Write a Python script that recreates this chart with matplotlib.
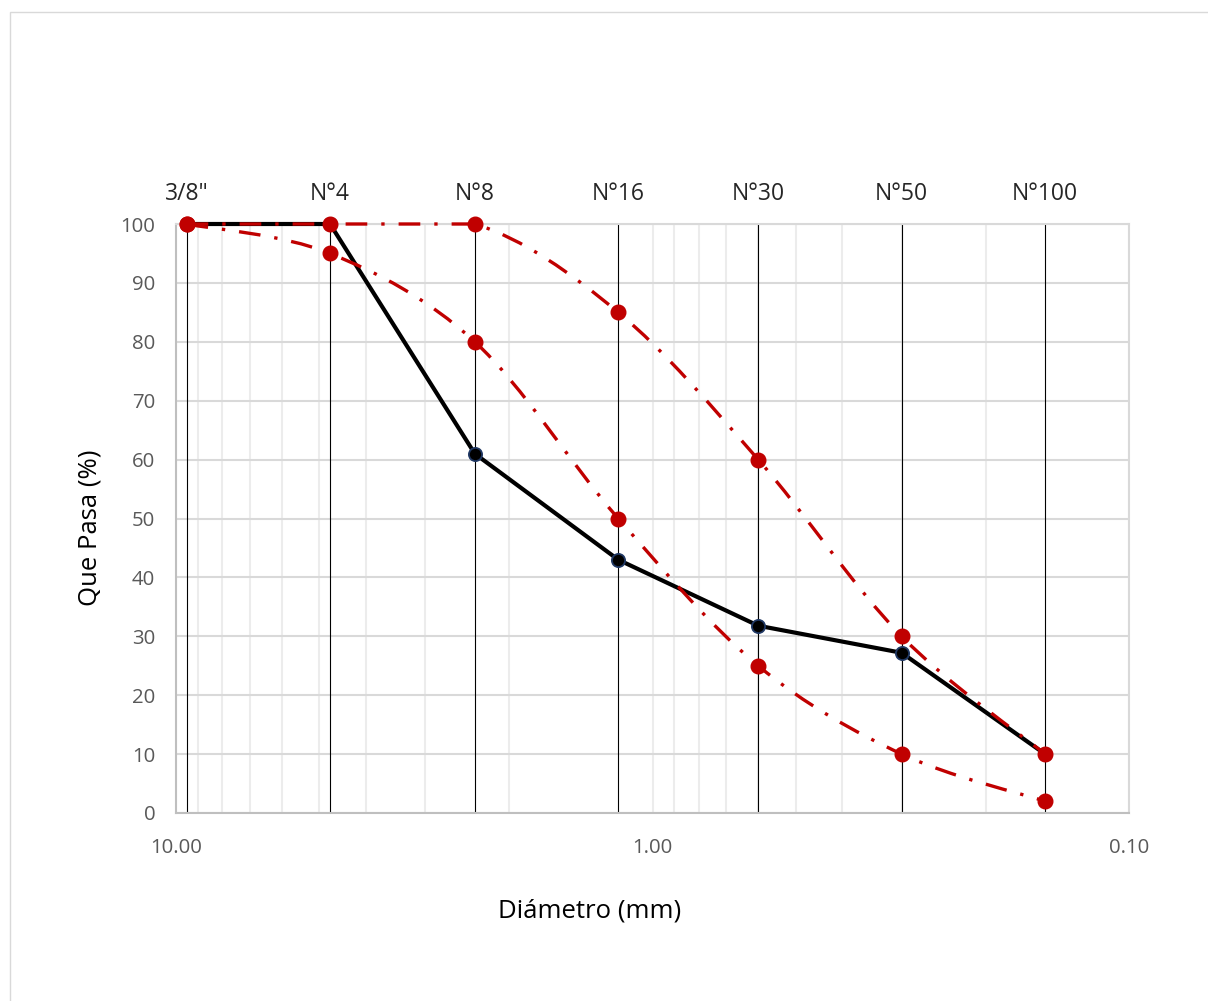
import numpy as np
import matplotlib
matplotlib.use("Agg")
import matplotlib.pyplot as plt
from matplotlib.path import Path
from matplotlib.patches import PathPatch, Rectangle
from matplotlib.ticker import FixedLocator, FixedFormatter, LogLocator, NullFormatter

plt.rcParams['font.family'] = ['Open Sans', 'DejaVu Sans']

# sieve openings (mm) and names
sieves = ['3/8"', 'N°4', 'N°8', 'N°16', 'N°30', 'N°50', 'N°100']
diam = [9.5, 4.75, 2.36, 1.18, 0.6, 0.3, 0.15]

# percent passing of the sample and the gradation band
muestra = [100, 100, 61, 43, 31.8, 27.2, 10]
lim_sup = [100, 100, 100, 85, 60, 30, 10]
lim_inf = [100, 95, 80, 50, 25, 10, 2]

RED = '#c00000'


def smooth_path(xs, ys):
    # cubic bezier through the points, built in screen space (log x)
    lx = np.log10(xs)
    ys = np.asarray(ys, float)
    n = len(lx)
    verts = [(lx[0], ys[0])]
    codes = [Path.MOVETO]
    for i in range(n - 1):
        p0 = max(i - 1, 0)
        p3 = min(i + 2, n - 1)
        c1x = lx[i] + (lx[i + 1] - lx[p0]) / 6
        c1y = ys[i] + (ys[i + 1] - ys[p0]) / 6
        c2x = lx[i + 1] - (lx[p3] - lx[i]) / 6
        c2y = ys[i + 1] - (ys[p3] - ys[i]) / 6
        lo, hi = min(ys[i], ys[i + 1]), max(ys[i], ys[i + 1])
        c1y = min(max(c1y, lo), hi)
        c2y = min(max(c2y, lo), hi)
        verts += [(c1x, c1y), (c2x, c2y), (lx[i + 1], ys[i + 1])]
        codes += [Path.CURVE4] * 3
    verts = [(10 ** vx, vy) for vx, vy in verts]
    return Path(verts, codes)


fig = plt.figure(figsize=(12.08, 10.01), dpi=100)
fig.patches.append(Rectangle((10 / 1208, -0.1), 1.2, 1 - 12 / 1001 + 0.1,
                             transform=fig.transFigure, fill=False,
                             edgecolor='#d9d9d9', linewidth=1))
ax = fig.add_axes([176 / 1208, 1 - 813 / 1001, (1129 - 176) / 1208, (813 - 224) / 1001])

ax.set_xscale('log')
ax.set_xlim(10, 0.1)
ax.set_ylim(0, 100)

ax.xaxis.set_major_locator(FixedLocator([10, 1, 0.1]))
ax.xaxis.set_major_formatter(FixedFormatter(['10.00', '1.00', '0.10']))
ax.xaxis.set_minor_locator(LogLocator(base=10, subs=np.arange(2, 10)))
ax.xaxis.set_minor_formatter(NullFormatter())
ax.set_yticks(np.arange(0, 101, 10))

ax.grid(True, which='major', axis='y', color='#d9d9d9', linewidth=1.5)
ax.grid(True, which='both', axis='x', color='#ececec', linewidth=1.5)
ax.set_axisbelow(True)
ax.tick_params(which='both', length=0, labelsize=14.7, labelcolor='#595959')
ax.tick_params(axis='y', pad=15)
ax.tick_params(axis='x', pad=18)
for s in ['top', 'right']:
    ax.spines[s].set_color('#d9d9d9')
for s in ['left', 'bottom']:
    ax.spines[s].set_color('#bfbfbf')
for s in ax.spines.values():
    s.set_linewidth(1.5)

# vertical line and name at each sieve
for d, name in zip(diam, sieves):
    ax.plot([d, d], [0, 100], color='black', linewidth=0.8, zorder=2)
    ax.text(d, 104.0, name, ha='center', va='baseline', fontsize=16.5, color='#262626')

ax.plot(diam, muestra, color='black', linewidth=3.0, marker='o', markersize=9.5,
        markerfacecolor='black', markeredgecolor='#203864', markeredgewidth=1.3,
        zorder=4, clip_on=False)

for serie in (lim_sup, lim_inf):
    patch = PathPatch(smooth_path(diam, serie), fill=False, edgecolor=RED,
                      linewidth=2.4, linestyle=(0, (6.5, 4.2, 1, 4.2)), zorder=5,
                      clip_on=False)
    ax.add_patch(patch)
    ax.plot(diam, serie, linestyle='none', marker='o', markersize=10.5,
            color=RED, zorder=6, clip_on=False)

ax.set_xlabel('Diámetro (mm)', fontsize=18.5, color='black')
ax.set_ylabel('Que Pasa (%)', fontsize=18.5, color='black')
ax.xaxis.set_label_coords(0.434, -0.146)
ax.yaxis.set_label_coords(-0.077, 0.484)

fig.savefig('out.png', dpi=100)
